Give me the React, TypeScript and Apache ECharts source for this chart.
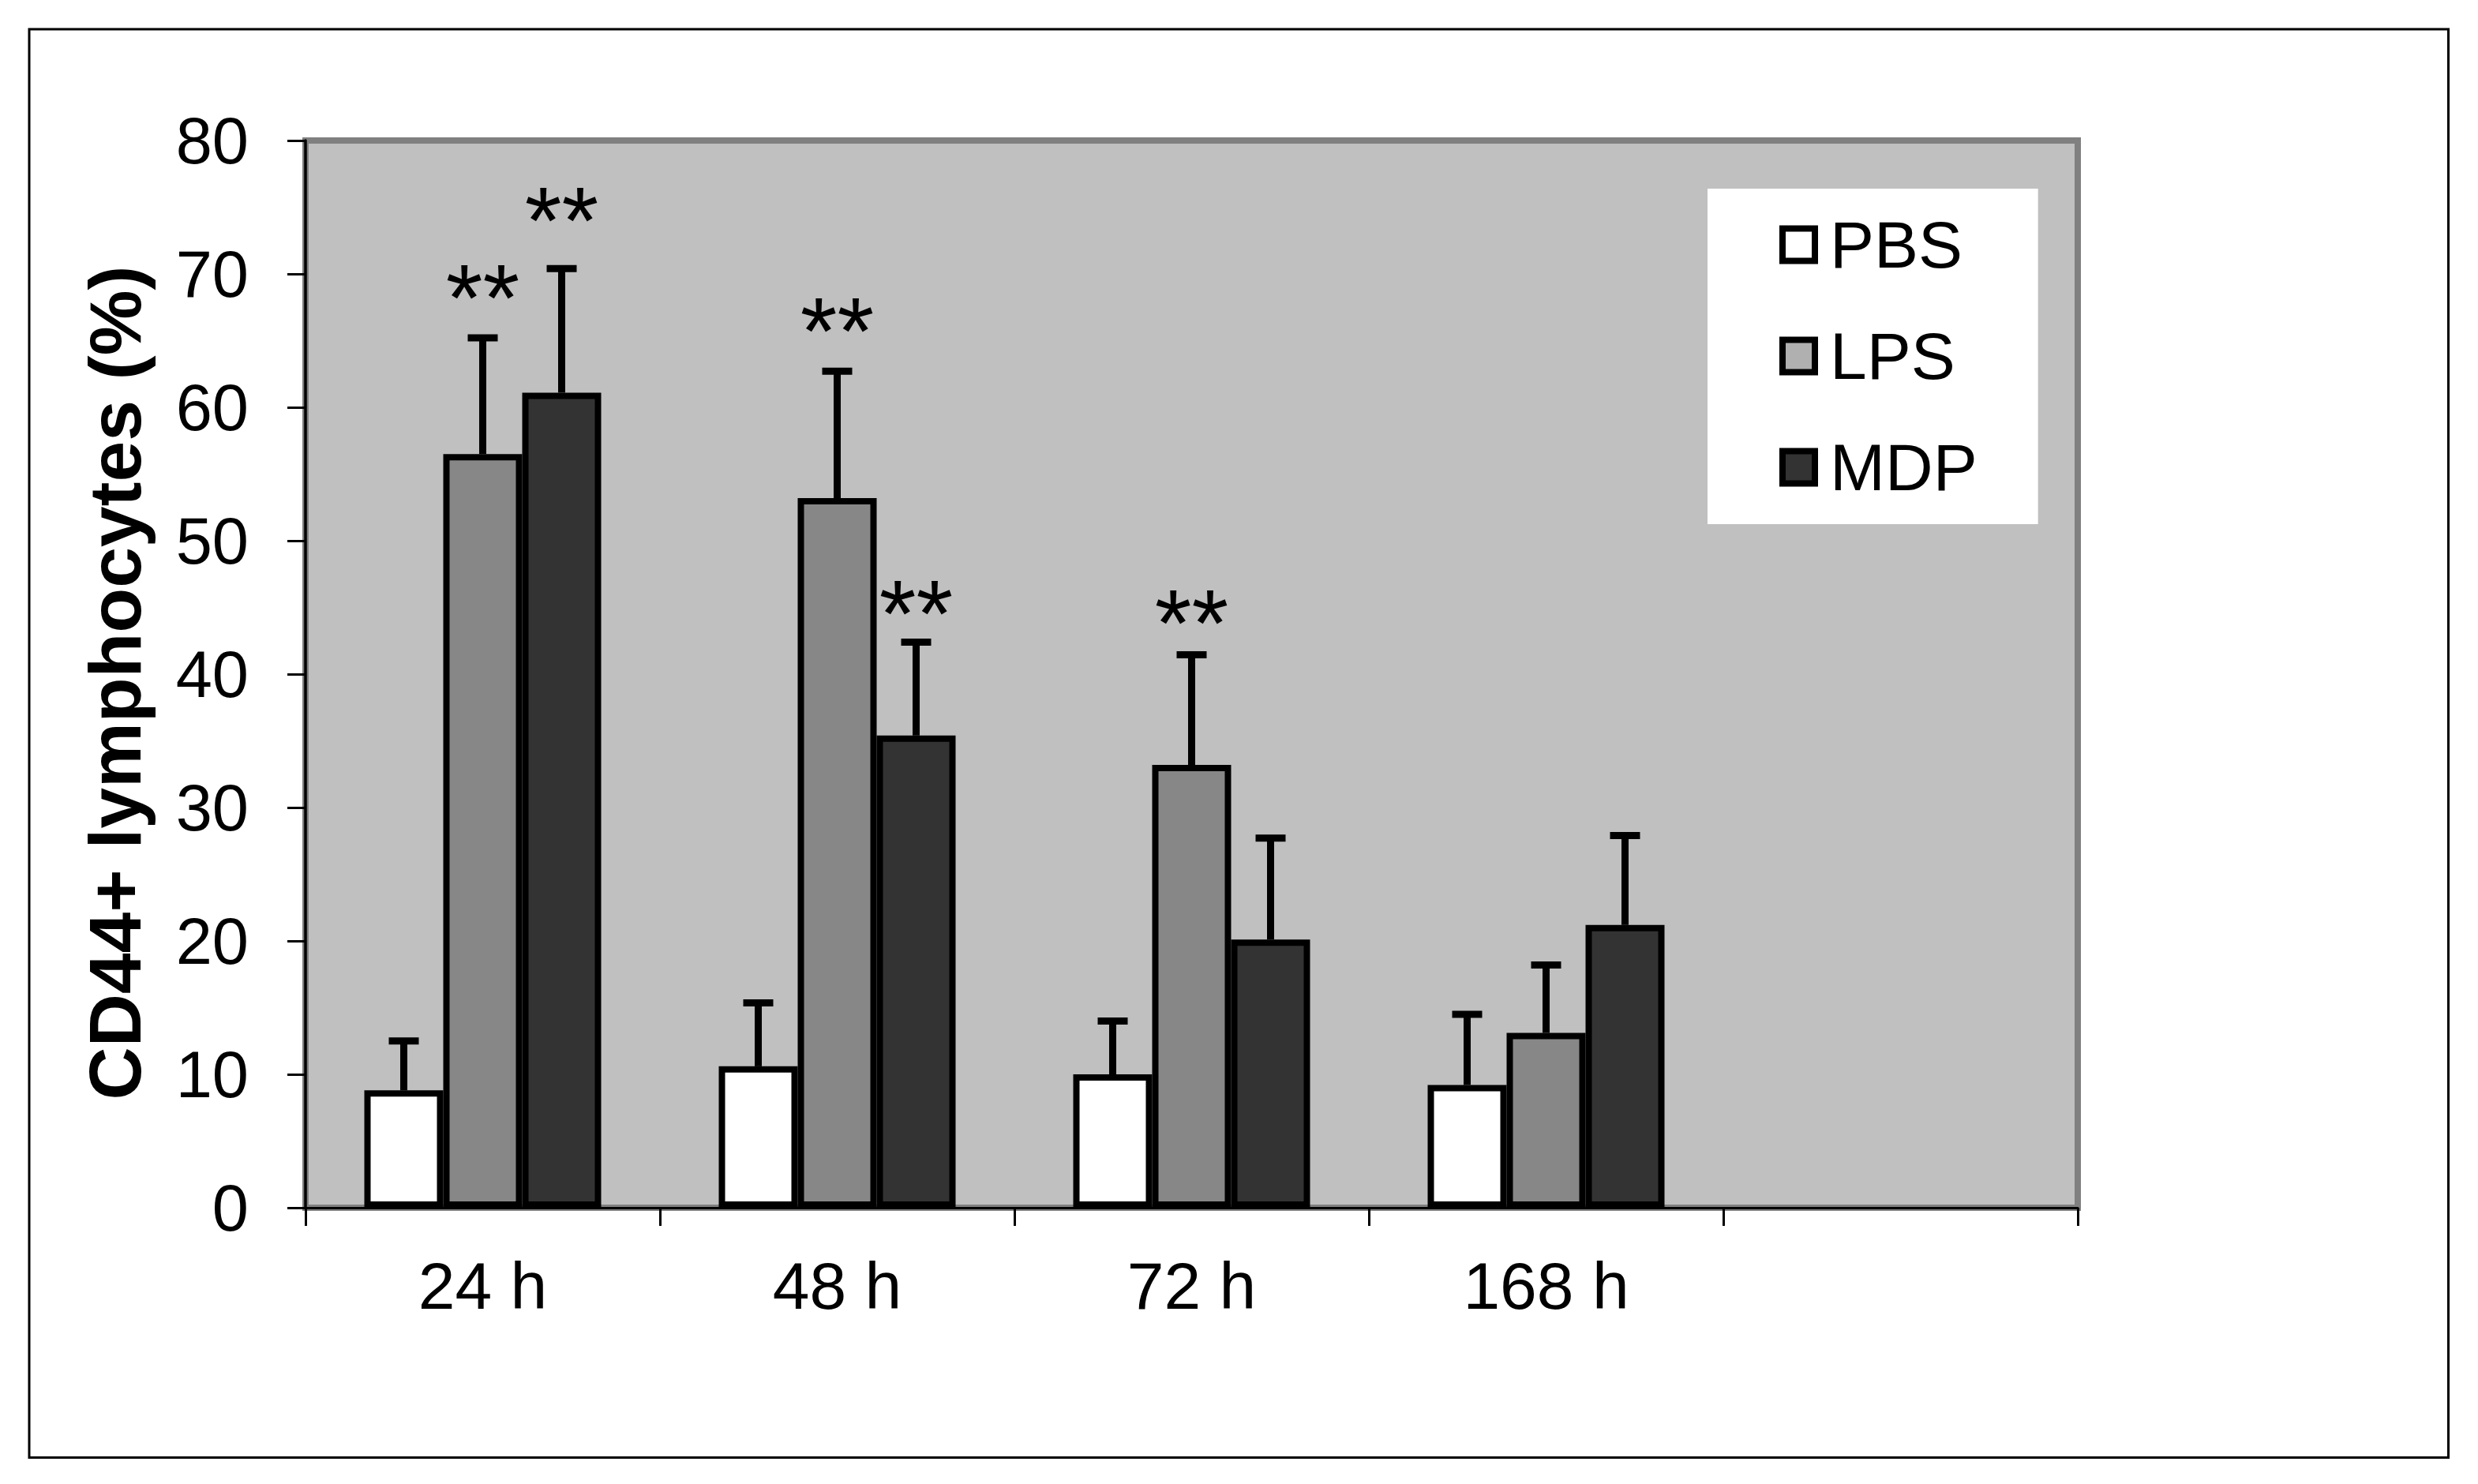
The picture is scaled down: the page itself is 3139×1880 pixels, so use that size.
import React, { useEffect, useRef } from "react";
import * as echarts from "echarts";

const categories = ["24 h", "48 h", "72 h", "168 h", ""];
const seriesNames = ["PBS", "LPS", "MDP"];
const pbsMean = [8.8, 10.6, 10.0, 9.2];
const pbsErr = [3.7, 4.75, 4.0, 5.3];
const lpsMean = [56.5, 53.2, 33.2, 13.1];
const lpsErr = [8.7, 9.5, 8.25, 5.1];
const mdpMean = [61.1, 35.4, 20.1, 21.2];
const mdpErr = [9.3, 7.0, 7.6, 6.7];
// heights (in axis units) of the "**" significance markers
const lpsStarY = [69.3, 66.8, 44.9, null];
const mdpStarY = [75.1, 45.6, null, null];
const yMin = 0;
const yMax = 80;
const yInterval = 10;

const FONT = "Liberation Sans";
const BAR_W = 100;
const barFill = ["#ffffff", "#878787", "#333333"];
const legendFill = ["#ffffff", "#b0b0b0", "#333333"];

export default function App() {
  const ref = useRef<HTMLDivElement>(null);
  useEffect(() => {
    if (!ref.current) return;
    const chart = echarts.init(ref.current, null, { renderer: "svg" });
    const means = [pbsMean, lpsMean, mdpMean];
    const errs = [pbsErr, lpsErr, mdpErr];

    const barSeries = seriesNames.map((name, si) => ({
      name,
      type: "bar",
      barWidth: BAR_W,
      barGap: "0%",
      data: means[si],
      itemStyle: { color: barFill[si], borderColor: "#000", borderWidth: 8 },
      z: 2,
    }));

    const errSeries = seriesNames.map((name, si) => ({
      type: "custom",
      name: name + " error",
      coordinateSystem: "cartesian2d",
      data: means[si].map((m, i) => [i, m, errs[si][i]]),
      encode: { x: 0, y: 1 },
      z: 3,
      renderItem: (params: any, api: any) => {
        const idx = api.value(0);
        const m = api.value(1);
        const e = api.value(2);
        const c0 = api.coord([idx, m]);
        const c1 = api.coord([idx, m + e]);
        const x = c0[0] + (si - 1) * BAR_W;
        return {
          type: "group",
          children: [
            { type: "line", shape: { x1: x, y1: c0[1], x2: x, y2: c1[1] }, style: { stroke: "#000", lineWidth: 9 } },
            { type: "line", shape: { x1: x - 19, y1: c1[1], x2: x + 19, y2: c1[1] }, style: { stroke: "#000", lineWidth: 9 } },
          ],
        };
      },
    }));

    const starData: number[][] = [];
    lpsStarY.forEach((v, i) => { if (v != null) starData.push([i, v, 1]); });
    mdpStarY.forEach((v, i) => { if (v != null) starData.push([i, v, 2]); });

    const starSeries = {
      type: "custom",
      name: "significance",
      coordinateSystem: "cartesian2d",
      data: starData,
      encode: { x: 0, y: 1 },
      z: 4,
      renderItem: (params: any, api: any) => {
        const c = api.coord([api.value(0), api.value(1)]);
        const x = c[0] + (api.value(2) - 1) * BAR_W;
        return {
          type: "text",
          x,
          y: c[1] + 18,
          style: {
            text: "**",
            fontSize: 120,
            fontFamily: FONT,
            fill: "#000",
            align: "center",
            verticalAlign: "middle",
          },
        };
      },
    };

    chart.setOption({
      animation: false,
      backgroundColor: "#ffffff",
      textStyle: { fontFamily: FONT },
      grid: {
        left: 387,
        top: 178,
        width: 2245,
        height: 1352,
        show: true,
        backgroundColor: "#c0c0c0",
        borderColor: "#808080",
        borderWidth: 8,
        containLabel: false,
      },
      legend: {
        orient: "vertical",
        left: 2163,
        top: 239,
        backgroundColor: "#ffffff",
        padding: [29, 77, 30, 91],
        itemWidth: 41,
        itemHeight: 41,
        itemGap: 57,
        icon: "rect",
        selectedMode: false,
        itemStyle: { borderColor: "#000", borderWidth: 8 },
        textStyle: { fontSize: 84, fontFamily: FONT, color: "#000", padding: [0, 0, 0, 14] },
        data: seriesNames.map((n, i) => ({ name: n, itemStyle: { color: legendFill[i], borderColor: "#000", borderWidth: 8 } })),
      },
      xAxis: {
        type: "category",
        data: categories,
        axisLine: { show: true, lineStyle: { color: "#000", width: 3 } },
        axisTick: { show: true, interval: 0, length: 23, lineStyle: { color: "#000", width: 3 } },
        axisLabel: { interval: 0, fontSize: 84, fontFamily: FONT, color: "#000", margin: 57 },
        splitLine: { show: false },
      },
      yAxis: {
        type: "value",
        min: yMin,
        max: yMax,
        interval: yInterval,
        name: "CD44+ lymphocytes (%)",
        nameLocation: "middle",
        nameGap: 195,
        nameTextStyle: { fontSize: 93, fontWeight: "bold", fontFamily: FONT, color: "#000", padding: [0, 22, 0, 0] },
        axisLine: { show: true, lineStyle: { color: "#000", width: 3.5 } },
        axisTick: { show: true, length: 23, lineStyle: { color: "#000", width: 3 } },
        axisLabel: { fontSize: 83, fontFamily: FONT, color: "#000", margin: 72 },
        splitLine: { show: false },
      },
      graphic: [
        {
          type: "rect",
          shape: { x: 37, y: 37, width: 3064.5, height: 1809.5 },
          style: { fill: "none", stroke: "#000", lineWidth: 3 },
          silent: true,
        },
      ],
      series: [...barSeries, ...errSeries, starSeries],
    });
    return () => chart.dispose();
  }, []);
  return (
    <div
      ref={ref}
      style={{ position: "fixed", left: 0, top: 0, width: 3139, height: 1880, background: "#fff" }}
    />
  );
}
